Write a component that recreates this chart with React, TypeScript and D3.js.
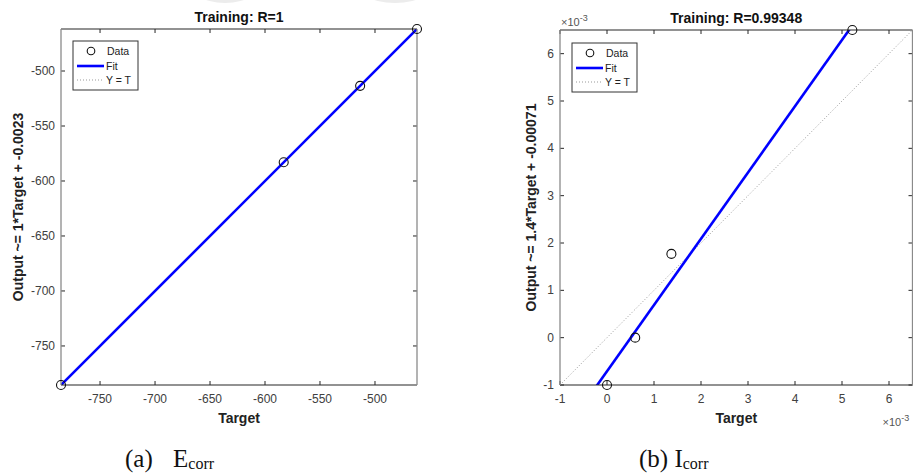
import React from "react";
import * as d3 from "d3";

// ---- Data ----
// Panel (a): E_corr
const targetsA = [-785.5, -583.0, -513.5, -461.8];
const outputsA = [-785.5, -583.0, -513.5, -461.8];
const fitA = { slope: 1, intercept: -0.0023 };
const domainA: [number, number] = [-785.5, -461.8];
const ticksA = [-750, -700, -650, -600, -550, -500];

// Panel (b): I_corr (values in units of 1e-3)
const targetsB = [0.0, 0.6, 1.37, 5.22];
const outputsB = [-1.0, 0.0, 1.77, 6.5];
const fitB = { slope: 1.4, intercept: -0.71 };
const domainB: [number, number] = [-1, 6.5];
const ticksB = [-1, 0, 1, 2, 3, 4, 5, 6];

const titleA = "Training: R=1";
const titleB = "Training: R=0.99348";
const ylabelA = "Output ~= 1*Target + -0.0023";
const ylabelB = "Output ~= 1.4*Target + -0.00071";

const SANS = "'Liberation Sans', Arial, sans-serif";
const SERIF = "'Liberation Serif', 'Times New Roman', serif";

type PanelProps = {
  id: string;
  x0: number;
  x1: number;
  y0: number;
  y1: number;
  domain: [number, number];
  ticks: number[];
  targets: number[];
  outputs: number[];
  fit: { slope: number; intercept: number };
  title: string;
  ylabel: string;
  ylabelX: number;
  legendX: number;
  legendY: number;
  exponent?: boolean;
};

function Panel(p: PanelProps) {
  const xs = d3.scaleLinear().domain(p.domain).range([p.x0, p.x1]);
  const ys = d3.scaleLinear().domain(p.domain).range([p.y1, p.y0]);
  const [d0, d1] = p.domain;
  const fitLine = d3
    .line<number>()
    .x((t) => xs(t))
    .y((t) => ys(p.fit.slope * t + p.fit.intercept));
  const idLine = d3
    .line<number>()
    .x((t) => xs(t))
    .y((t) => ys(t));
  const tickLen = 4;
  const hColor = "#262626";
  const vColor = "#8a8a8a";
  const labelColor = "#404040";
  const cx = (p.x0 + p.x1) / 2;
  const cy = (p.y0 + p.y1) / 2;
  const lg = { x: p.legendX, y: p.legendY, w: 65, h: 49 };
  return (
    <g>
      <defs>
        <clipPath id={`clip-${p.id}`}>
          <rect x={p.x0} y={p.y0} width={p.x1 - p.x0} height={p.y1 - p.y0} />
        </clipPath>
      </defs>
      <rect x={p.x0} y={p.y0} width={p.x1 - p.x0} height={p.y1 - p.y0} fill="#fff" />
      {/* ticks */}
      {p.ticks.map((t) => (
        <g key={`xt${t}`}>
          <line x1={xs(t)} x2={xs(t)} y1={p.y1} y2={p.y1 - tickLen} stroke={hColor} />
          <line x1={xs(t)} x2={xs(t)} y1={p.y0} y2={p.y0 + tickLen} stroke={hColor} />
          <text x={xs(t)} y={p.y1 + 18} textAnchor="middle" fontSize={12} fill={labelColor} fontFamily={SANS}>
            {t}
          </text>
        </g>
      ))}
      {p.ticks.map((t) => (
        <g key={`yt${t}`}>
          <line x1={p.x0} x2={p.x0 + tickLen} y1={ys(t)} y2={ys(t)} stroke={hColor} />
          <line x1={p.x1} x2={p.x1 - tickLen} y1={ys(t)} y2={ys(t)} stroke={hColor} />
          <text x={p.x0 - 6} y={ys(t) + 4} textAnchor="end" fontSize={12} fill={labelColor} fontFamily={SANS}>
            {t}
          </text>
        </g>
      ))}
      {/* lines */}
      <g clipPath={`url(#clip-${p.id})`}>
        <path d={idLine([d0, d1]) || ""} stroke="#999" strokeWidth={1} strokeDasharray="1,2" fill="none" />
        <path d={fitLine([d0 - (d1 - d0), d1 + (d1 - d0)]) || ""} stroke="#0000ff" strokeWidth={2.6} fill="none" />
      </g>
      {/* axes */}
      <line x1={p.x0} x2={p.x1} y1={p.y0} y2={p.y0} stroke={hColor} strokeWidth={1.1} />
      <line x1={p.x0} x2={p.x1} y1={p.y1} y2={p.y1} stroke={hColor} strokeWidth={1.1} />
      <line x1={p.x0} x2={p.x0} y1={p.y0} y2={p.y1} stroke={vColor} strokeWidth={1.3} />
      <line x1={p.x1} x2={p.x1} y1={p.y0} y2={p.y1} stroke={vColor} strokeWidth={1.3} />
      {/* data */}
      {p.targets.map((t, i) => (
        <circle key={`pt${i}`} cx={xs(t)} cy={ys(p.outputs[i])} r={4.5} fill="none" stroke="#111" strokeWidth={1.1} />
      ))}
      {/* legend */}
      <g>
        <rect x={lg.x} y={lg.y} width={lg.w} height={lg.h} fill="#fff" stroke="#333" strokeWidth={1} />
        <circle cx={lg.x + 18} cy={lg.y + 10} r={3.8} fill="none" stroke="#111" strokeWidth={1.1} />
        <text x={lg.x + 34} y={lg.y + 14} fontSize={10.5} fontFamily={SANS} fill="#222">Data</text>
        <line x1={lg.x + 4} x2={lg.x + 31} y1={lg.y + 25} y2={lg.y + 25} stroke="#0000ff" strokeWidth={2.6} />
        <text x={lg.x + 33} y={lg.y + 29} fontSize={10.5} fontFamily={SANS} fill="#222">Fit</text>
        <line x1={lg.x + 4} x2={lg.x + 31} y1={lg.y + 39} y2={lg.y + 39} stroke="#999" strokeWidth={1} strokeDasharray="1,2" />
        <text x={lg.x + 33} y={lg.y + 43} fontSize={10.5} fontFamily={SANS} fill="#222">Y = T</text>
      </g>
      {/* labels */}
      <text x={cx} y={p.y0 - 7} textAnchor="middle" fontSize={14} fontWeight="bold" fontFamily={SANS} fill="#111">
        {p.title}
      </text>
      <text x={cx} y={p.y1 + 38} textAnchor="middle" fontSize={14} fontWeight="bold" fontFamily={SANS} fill="#222">
        Target
      </text>
      <text
        transform={`translate(${p.ylabelX},${cy}) rotate(-90)`}
        textAnchor="middle"
        fontSize={14}
        fontWeight="bold"
        fontFamily={SANS}
        fill="#222"
      >
        {p.ylabel}
      </text>
      {p.exponent && (
        <>
          <text x={p.x0 + 1} y={p.y0 - 4} fontSize={11} fontFamily={SANS} fill="#555">
            ×10<tspan dy={-5} fontSize={9}>-3</tspan>
          </text>
          <text x={p.x1 - 30} y={p.y1 + 41} fontSize={11} fontFamily={SANS} fill="#555">
            ×10<tspan dy={-5} fontSize={9}>-3</tspan>
          </text>
        </>
      )}
    </g>
  );
}

export default function App() {
  return (
    <svg
      width={913}
      height={474}
      style={{ position: "absolute", left: 0, top: 0, background: "#fff" }}
      viewBox="0 0 913 474"
    >
      <rect x={0} y={0} width={913} height={474} fill="#fff" />
      {/* faint watermark shapes at the top edge */}
      <ellipse cx={225} cy={-22} rx={40} ry={25} fill="#ececec" />
      <ellipse cx={395} cy={-24} rx={45} ry={27} fill="#ececec" />
      <Panel
        id="a"
        x0={61}
        x1={417}
        y0={29}
        y1={385}
        domain={domainA}
        ticks={ticksA}
        targets={targetsA}
        outputs={outputsA}
        fit={fitA}
        title={titleA}
        ylabel={ylabelA}
        ylabelX={23}
        legendX={73}
        legendY={41}
      />
      <Panel
        id="b"
        x0={560}
        x1={912.5}
        y0={30}
        y1={385}
        domain={domainB}
        ticks={ticksB}
        targets={targetsB}
        outputs={outputsB}
        fit={fitB}
        title={titleB}
        ylabel={ylabelB}
        ylabelX={536}
        legendX={572}
        legendY={43}
        exponent
      />
      {/* captions */}
      <text x={125} y={467} fontSize={25} fontFamily={SERIF} fill="#111">
        (a)
      </text>
      <text x={173} y={467} fontSize={25} fontFamily={SERIF} fill="#111">
        E<tspan fontSize={16} dy={2}>corr</tspan>
      </text>
      <text x={639} y={467} fontSize={25} fontFamily={SERIF} fill="#111">
        (b) I<tspan fontSize={16} dy={2}>corr</tspan>
      </text>
    </svg>
  );
}
